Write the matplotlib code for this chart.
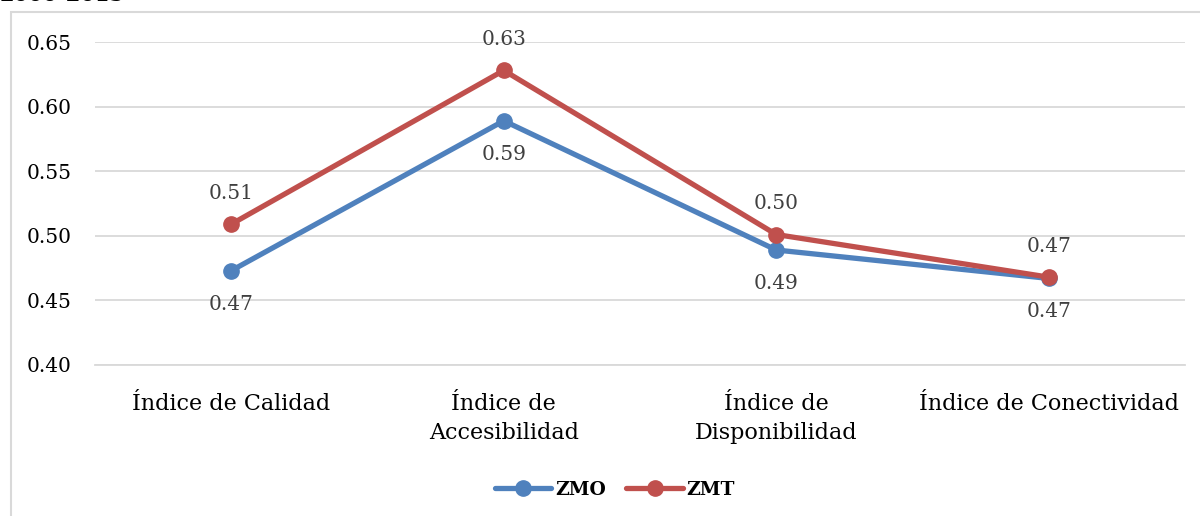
import matplotlib
matplotlib.use("Agg")
import matplotlib.pyplot as plt
from matplotlib.patches import Rectangle

categories = ["Índice de Calidad", "Índice de\nAccesibilidad", "Índice de\nDisponibilidad", "Índice de Conectividad"]
zmo = [0.473, 0.589, 0.489, 0.467]
zmt = [0.509, 0.628, 0.501, 0.468]
zmo_labels = ["0.47", "0.59", "0.49", "0.47"]
zmt_labels = ["0.51", "0.63", "0.50", "0.47"]
yticks = [0.40, 0.45, 0.50, 0.55, 0.60, 0.65]

plt.rcParams['font.family'] = ['DejaVu Serif']
fig = plt.figure(figsize=(12, 5.16), dpi=100)
ax = fig.add_axes([95/1200, 1-365/516, 1090/1200, 323/516])

blue = "#4F81BD"
red = "#C0504D"
txt = "#404040"
x = list(range(len(categories)))
ax.plot(x, zmo, color=blue, lw=3.8, marker="o", ms=11, label="ZMO", solid_capstyle="round", zorder=3)
ax.plot(x, zmt, color=red, lw=3.8, marker="o", ms=11, label="ZMT", solid_capstyle="round", zorder=4)

for xi, v, s in zip(x, zmo, zmo_labels):
    ax.annotate(s, (xi, v), xytext=(0, -24), textcoords="offset points", ha="center", va="center", fontsize=14.5, color=txt)
for xi, v, s in zip(x, zmt, zmt_labels):
    ax.annotate(s, (xi, v), xytext=(0, 22), textcoords="offset points", ha="center", va="center", fontsize=14.5, color=txt)

ax.set_xlim(-0.5, 3.5)
ax.set_ylim(0.40, 0.65)
ax.set_yticks(yticks)
ax.set_yticklabels([f"{t:.2f}" for t in yticks], fontsize=14.5, color="black")
ax.set_xticks(x)
ax.set_xticklabels(categories, fontsize=16, color="black", linespacing=1.45)
ax.tick_params(axis="both", length=0)
ax.tick_params(axis="y", pad=17)
ax.tick_params(axis="x", pad=20)
ax.grid(axis="y", color="#D9D9D9", lw=1.3)
ax.set_axisbelow(True)
for sp in ["top", "right", "left"]:
    ax.spines[sp].set_visible(False)
ax.spines["bottom"].set_color("#D9D9D9")
ax.spines["bottom"].set_linewidth(1.3)

leg = ax.legend(loc="center", bbox_to_anchor=(615/1200, 1-490/516), bbox_transform=fig.transFigure,
                ncol=2, frameon=False, prop={"weight": "bold", "size": 13.5}, handlelength=3.0,
                columnspacing=1.1, handletextpad=0.2)

fig.patches.append(Rectangle((11/1200, -0.1), 1.2, 1-12/516+0.1, transform=fig.transFigure,
                             fill=False, edgecolor="#D9D9D9", lw=1.5))
fig.text(0.0, 1.03, "2000-2015", fontsize=15, fontweight="bold", va="top", ha="left")

fig.savefig("out.png", dpi=100)
